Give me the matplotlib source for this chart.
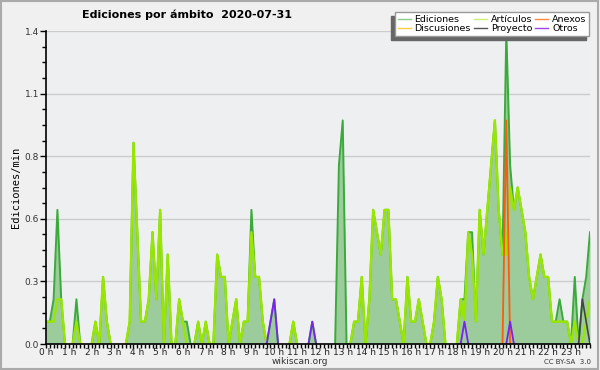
import numpy as np
import matplotlib
matplotlib.use('Agg')
import matplotlib.pyplot as plt
from matplotlib.lines import Line2D

# edits per minute, one value per 10 minutes (00:00 .. 23:50)
ediciones = [
    .1, .1, .2, .6, .2, 0, 0, 0, .2, 0, 0, 0, 0, .1, 0, .3, .1, 0, 0, 0, 0, 0, .1, .9,
    .5, .1, .1, .2, .5, .2, .6, 0, .4, 0, 0, .2, .1, .1, 0, 0, .1, 0, .1, 0, 0, .4, .3, .3,
    0, .1, .2, 0, .1, .1, .6, .3, .3, .1, 0, .1, .2, 0, 0, 0, 0, .1, 0, 0, 0, 0, .1, 0,
    0, 0, 0, 0, 0, .8, 1.0, 0, 0, .1, .1, .3, 0, .2, .6, .5, .4, .6, .6, .2, .2, .1, 0, .3,
    .1, .1, .2, .1, 0, 0, .1, .3, .2, 0, 0, 0, 0, .2, .2, .5, .5, .1, .6, .4, .6, .8, 1.0, .6,
    .4, 1.4, .8, .6, .7, .6, .5, .3, .2, .3, .4, .3, .3, .1, .1, .2, .1, .1, 0, .3, 0, .2, .3, .5,
]
articulos = [
    .1, .1, .1, .2, .2, 0, 0, 0, .1, 0, 0, 0, 0, .1, 0, .3, .1, 0, 0, 0, 0, 0, .1, .9,
    .5, .1, .1, .2, .5, .2, .6, 0, .4, 0, 0, .2, .1, 0, 0, 0, .1, 0, .1, 0, 0, .4, .3, .3,
    0, .1, .2, 0, .1, .1, .5, .3, .3, .1, 0, 0, 0, 0, 0, 0, 0, .1, 0, 0, 0, 0, 0, 0,
    0, 0, 0, 0, 0, 0, 0, 0, 0, .1, .1, .3, 0, .2, .6, .5, .4, .6, .6, .2, .2, .1, 0, .3,
    .1, .1, .2, .1, 0, 0, .1, .3, .2, 0, 0, 0, 0, .2, .1, .5, .4, .1, .6, .4, .6, .8, 1.0, .6,
    .4, .4, .7, .6, .7, .6, .5, .3, .2, .3, .4, .3, .3, .1, .1, .1, .1, .1, 0, .1, 0, 0, .1, .2,
]
anexos_idx = [121]
anexos_val = [1.0]
otros_idx = [59, 60, 70, 110, 122]
otros_val = [.1, .2, .1, .1, .1]
proyecto_idx = [141, 142]
proyecto_val = [.2, .1]

hours = [f'{h} h' for h in range(24)]
y_ticks = [0, .28, .56, .84, 1.12, 1.4]

n = len(ediciones)
t = np.arange(n) / 6.0


def sparse(idx, val):
    a = np.zeros(n)
    a[idx] = val
    return a


def mask_zero_runs(a):
    a = np.asarray(a, dtype=float)
    out = a.copy()
    for i in range(n):
        left = a[i - 1] if i > 0 else 0
        right = a[i + 1] if i < n - 1 else 0
        if a[i] == 0 and left == 0 and right == 0:
            out[i] = np.nan
    return out


fig = plt.figure(figsize=(6, 3.7), dpi=100, facecolor='#f0f0f0')
ax = fig.add_axes([46 / 600, 1 - 344 / 370, 544 / 600, 313 / 370])
ax.set_facecolor('#eeeff1')

ax.fill_between(t, 0, ediciones, color='#9ccb9c', lw=0, zorder=2)
ax.plot(t, mask_zero_runs(ediciones), color='#3aab3a', lw=1.4, zorder=3)
ax.plot(t, mask_zero_runs(articulos), color='#99e600', lw=1.7, zorder=4)
ax.plot(t, mask_zero_runs(sparse(anexos_idx, anexos_val)), color='#ff5a10', lw=1.3, zorder=5)
ax.plot(t, mask_zero_runs(sparse(proyecto_idx, proyecto_val)), color='#444444', lw=1.2, zorder=5)
ax.plot(t, mask_zero_runs(sparse(otros_idx, otros_val)), color='#7a22ee', lw=1.3, zorder=5)

ax.set_xlim(0, t[-1])
ax.set_ylim(0, 1.4)
ax.set_yticks(y_ticks)
ax.set_yticklabels([f'{v:.1f}' for v in y_ticks], fontsize=6.5, color='#333333')
ax.set_yticks(np.arange(0, 1.41, 0.07), minor=True)
ax.set_xticks(np.arange(24))
ax.set_xticklabels(hours, fontsize=6.5, color='#222222')
ax.set_xticks(np.arange(0, t[-1] + 0.01, 1 / 6), minor=True)
ax.tick_params(axis='y', which='major', length=4, width=1, pad=1)
ax.tick_params(axis='y', which='minor', length=3, width=1)
ax.tick_params(axis='x', which='both', length=3, width=1, pad=0)
ax.grid(axis='y', which='major', color='#cccccc', lw=1, zorder=0)
ax.set_axisbelow(True)
for s in ['top', 'right']:
    ax.spines[s].set_visible(False)
for s in ['left', 'bottom']:
    ax.spines[s].set_linewidth(1.2)
    ax.spines[s].set_zorder(6)

ax.set_ylabel('Ediciones/min', fontsize=7.5, family='DejaVu Sans Mono', labelpad=3)
fig.text(0.3125, 0.959, 'Ediciones por ámbito  2020-07-31', fontsize=8,
         fontweight='bold', ha='center', va='center')
fig.text(0.5, 0.023, 'wikiscan.org', fontsize=6.5, ha='center', va='center', color='#333333')
fig.text(0.985, 0.021, 'CC BY-SA  3.0', fontsize=5, ha='right', va='center', color='#333333')

handles = [
    Line2D([], [], color='#88cc88', lw=1), Line2D([], [], color='#ffcc44', lw=1),
    Line2D([], [], color='#ccee77', lw=1), Line2D([], [], color='#555555', lw=1),
    Line2D([], [], color='#ff8844', lw=1), Line2D([], [], color='#9944ee', lw=1),
]
labels = ['Ediciones', 'Discusiones', 'Artículos', 'Proyecto', 'Anexos', 'Otros']
leg = fig.legend(handles, labels, ncol=3, fontsize=6.8, loc='upper right',
                 bbox_to_anchor=(0.99, 0.98), frameon=True, fancybox=False,
                 shadow={'ox': -2.5, 'oy': -2.5, 'color': '#666666', 'alpha': 1},
                 handlelength=1.4, handletextpad=0.4, columnspacing=0.3,
                 labelspacing=0.05, borderpad=0.3)
leg.get_frame().set_edgecolor('#999999')
leg.get_frame().set_facecolor('white')
leg.get_frame().set_linewidth(1)

fig.patches.append(plt.Rectangle((0.002, 0.003), 0.995, 0.994, transform=fig.transFigure,
                                 fill=False, edgecolor='#aaaaaa', lw=1.5))
fig.savefig('out.png', dpi=100, facecolor=fig.get_facecolor())
